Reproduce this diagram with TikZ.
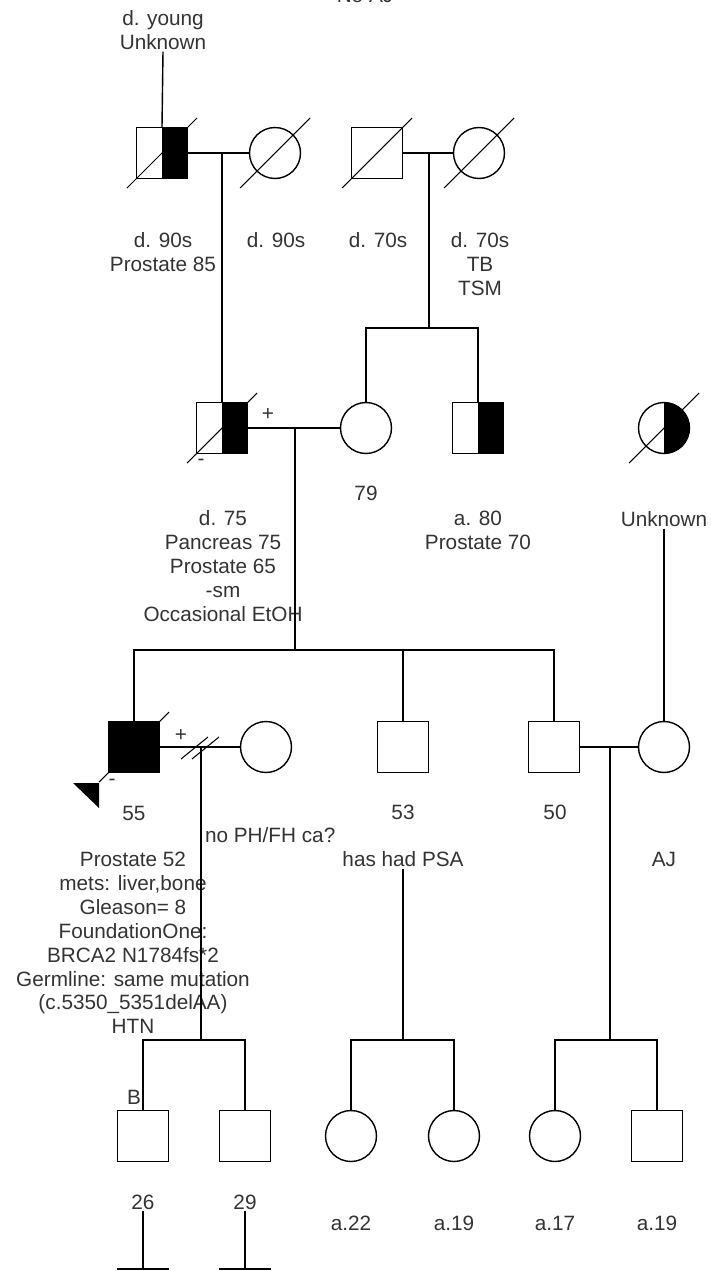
\documentclass[tikz,border=0pt]{standalone}
\usepackage{fontspec}
\setmainfont{Liberation Sans}
\usetikzlibrary{calc}
\tikzset{
  male/.style={rectangle,draw,line width=0.8pt,minimum size=1.02cm,inner sep=0pt},
  female/.style={circle,draw,line width=0.8pt,minimum size=1.02cm,inner sep=0pt},
  halfaff/.style={path picture={\fill (path picture bounding box.north) rectangle (path picture bounding box.south east);}},
  affected/.style={fill=black},
  rel/.style={line width=0.8pt},
  slash/.style={line width=0.6pt},
  lbl/.style={align=center,text=black!80,font=\fontsize{11.8}{13.6}\selectfont,inner sep=1pt}
}
\newcommand{\deceased}[1]{\draw[slash] ($(#1)+(-35,35)$) -- ($(#1)+(35,-35)$);}

\begin{document}
\begin{tikzpicture}[x=0.02cm,y=-0.02cm]
\useasboundingbox (0,0) rectangle (710,1271);

% generation I
\node[male,halfaff] (gf1) at (162,153) {};
\node[female] (gm1) at (275,153) {};
\node[male] (gf2) at (377,153) {};
\node[female] (gm2) at (479,153) {};
\deceased{gf1} \deceased{gm1} \deceased{gf2} \deceased{gm2}
\node[lbl] (lnoaj) at (365,-5) {No AJ};
\node[lbl] (lgf0) at (163,30) {d. young\\Unknown};
\node[lbl] (lgf1) at (163,252) {d. 90s\\Prostate 85};
\node[lbl] (lgm1) at (276,240) {d. 90s};
\node[lbl] (lgf2) at (378,240) {d. 70s};
\node[lbl] (lgm2) at (480,264) {d. 70s\\TB\\TSM};

% generation II
\node[male,halfaff] (fa) at (222,428) {};
\node[female] (mo) at (366,428) {};
\node[male,halfaff] (un1) at (478,428) {};
\node[female,halfaff] (ajm) at (664,428) {};
\deceased{fa} \deceased{ajm}
\node[lbl] at (268,415) {+};
\node[lbl] at (201,462) {-};
\node[lbl] (lfa) at (223,566) {d. 75\\Pancreas 75\\Prostate 65\\-sm\\Occasional EtOH};
\node[lbl] (lmo) at (366,493) {79};
\node[lbl] (lun1) at (478,530) {a. 80\\Prostate 70};
\node[lbl] (lajm) at (664,519) {Unknown};

% generation III
\node[male,affected] (pb) at (134,747) {};
\deceased{pb}
\fill (73,783) -- (99,783) -- (99,808) -- cycle;
\node[lbl] at (181,736) {+};
\node[lbl] at (112,782) {-};
\node[female] (sp1) at (266,747) {};
\node[male] (un2) at (403,747) {};
\node[male] (un3) at (554,747) {};
\node[female] (aj) at (664,747) {};
\node[lbl] (lpb) at (134,813) {55};
\node[lbl,anchor=west] (lsp1) at (203,835) {no PH/FH ca?};
\node[lbl] (lpb2) at (133,943) {Prostate 52\\mets: liver,bone\\Gleason= 8\\FoundationOne:\\BRCA2 N1784fs*2\\Germline: same mutation\\(c.5350\_5351delAA)\\HTN};
\node[lbl] (lun2) at (403,812) {53};
\node[lbl] (lpsa) at (403,859) {has had PSA};
\node[lbl] (lun3) at (555,812) {50};
\node[lbl] (laj) at (664,859) {AJ};

% generation IV
\node[male] (c1) at (143,1136) {};
\node[male] (c2) at (245,1136) {};
\node[female] (c3) at (351,1136) {};
\node[female] (c4) at (454,1136) {};
\node[female] (c5) at (555,1136) {};
\node[male] (c6) at (657,1136) {};
\node[lbl] at (134,1097) {B};
\node[lbl] (l26) at (143,1202) {26};
\node[lbl] (l29) at (245,1202) {29};
\node[lbl] at (351,1223) {a.22};
\node[lbl] at (454,1223) {a.19};
\node[lbl] at (555,1223) {a.17};
\node[lbl] at (657,1223) {a.19};

% lines
\coordinate (m1) at (222,153);
\coordinate (m2) at (429,153);
\coordinate (s1) at (429,328);
\coordinate (m3) at (295,428);
\coordinate (s2) at (295,650);
\coordinate (m4) at (201,747);
\coordinate (s4) at (201,1040);
\coordinate (s5) at (403,1040);
\coordinate (m5) at (610,747);
\coordinate (s6) at (610,1040);
\coordinate (b1) at (143,1269);
\coordinate (b2) at (245,1269);

\draw[rel] (lgf0.south) -- (gf1.north);
\draw[rel] (gf1.east) -- (gm1.west);
\draw[rel] (m1) -- (fa.north);
\draw[rel] (gf2.east) -- (gm2.west);
\draw[rel] (m2) -- (s1);
\draw[rel] (mo.north) |- (s1) -| (un1.north);

\draw[rel] (fa.east) -- (mo.west);
\draw[rel] (m3) -- (s2);
\draw[rel] (pb.north) |- (s2) -| (un3.north);
\draw[rel] (un2.north) -- (un2.north |- s2);
\draw[rel] (lajm.south) -- (aj.north);

\draw[rel] (pb.east) -- (sp1.west);
\draw[slash] ($(m4)+(-20,12)$) -- ($(m4)+(7,-10)$);
\draw[slash] ($(m4)+(-9,12)$) -- ($(m4)+(18,-10)$);
\draw[rel] (m4) -- (s4);
\draw[rel] (c1.north) |- (s4) -| (c2.north);
\draw[rel] (lpsa.south) -- (s5);
\draw[rel] (c3.north) |- (s5) -| (c4.north);
\draw[rel] (un3.east) -- (aj.west);
\draw[rel] (m5) -- (s6);
\draw[rel] (c5.north) |- (s6) -| (c6.north);

\draw[rel] (l26.south) -- (b1);
\draw[rel] ($(b1)+(-26,0)$) -- ($(b1)+(26,0)$);
\draw[rel] (l29.south) -- (b2);
\draw[rel] ($(b2)+(-26,0)$) -- ($(b2)+(26,0)$);
\end{tikzpicture}
\end{document}
